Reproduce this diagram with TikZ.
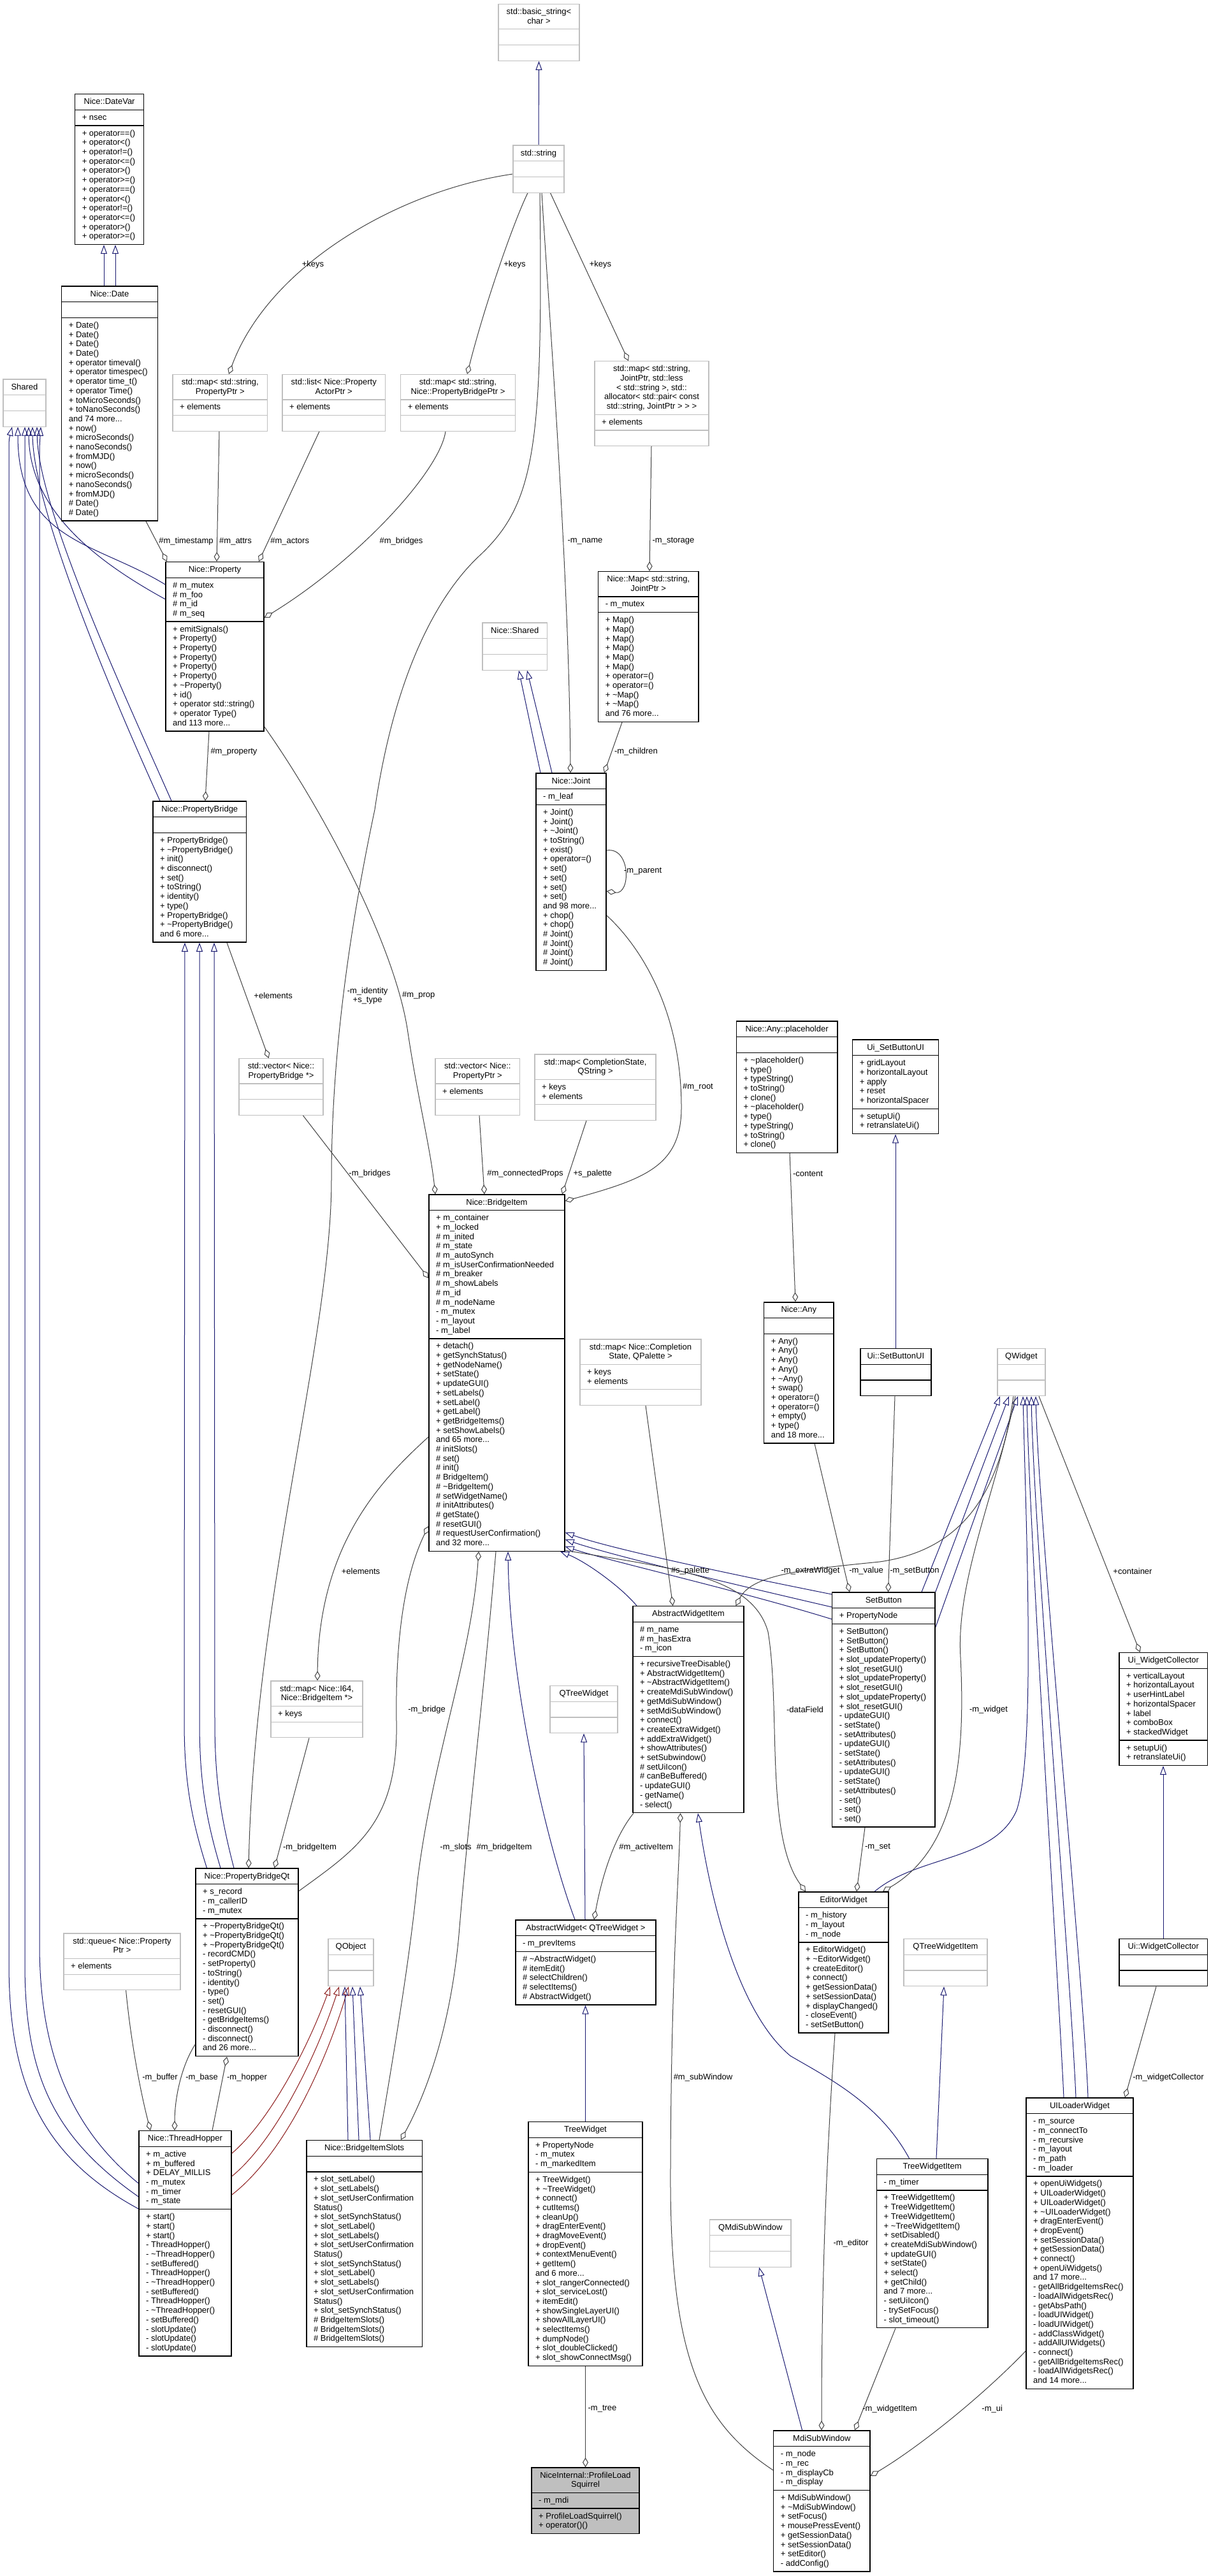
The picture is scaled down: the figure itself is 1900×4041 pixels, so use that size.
\documentclass[tikz,border=0pt]{standalone}
\usepackage{fontspec}
\setmainfont{Liberation Sans}
\usetikzlibrary{arrows.meta,fit}
\definecolor{navy}{RGB}{25,25,112}
\definecolor{privred}{RGB}{139,26,26}
\definecolor{edgegray}{RGB}{64,64,64}
\definecolor{boxgray}{RGB}{191,191,191}
\pgfdeclarelayer{bg}\pgfsetlayers{bg,main}
\newcommand{\more}[1]{and #1 more.{}.{}.}
% class box: [style]{name}{x}{y}{width}{title lines}{attr lines}{method lines}
\newcommand{\umlbox}[8][cls]{%
 \pgfmathsetmacro\boxA{#4+#6*14.7+10}\pgfmathsetmacro\boxB{\boxA+max(#7,1)*14.7+10}\pgfmathsetmacro\boxC{\boxB+max(#8,1)*14.7+10}%
 \node[#1,fit={(#3,#4) ({#3+#5},\boxC)}] (#2) {};
 \draw[#1] (#3,\boxA) -- ({#3+#5},\boxA) (#3,\boxB) -- ({#3+#5},\boxB);
 \xdef\boxN{#2}\xdef\boxX{#3}\xdef\boxY{#4}\xdef\boxW{#5}\xdef\boxA{\boxA}\xdef\boxB{\boxB}}
\newcommand{\btitle}[1]{\foreach \row [count=\i] in {#1} \node[txt,anchor=base] (\boxN-t\i) at ({\boxX+\boxW/2},{\boxY+16+(\i-1)*14.7}) {\row};}
\newcommand{\battr}[1]{\foreach \row [count=\i] in {#1} \node[txt,anchor=base west] (\boxN-a\i) at ({\boxX+11},{\boxA+16+(\i-1)*14.7}) {\row};}
\newcommand{\bmeth}[1]{\foreach \row [count=\i] in {#1} \node[txt,anchor=base west] (\boxN-m\i) at ({\boxX+11},{\boxB+16+(\i-1)*14.7}) {\row};}
\tikzset{every node/.style={font=\fontsize{13}{14.7}\selectfont},
 cls/.style={draw=black,fill=white,line width=1.4pt,inner sep=0pt},
 ext/.style={draw=boxgray,fill=white,line width=1.2pt,inner sep=0pt},
 cur/.style={draw=black,fill=boxgray,line width=1.4pt,inner sep=0pt},
 txt/.style={inner sep=0pt},lbl/.style={inner sep=0pt},
 inh/.style={navy,line width=1pt,-{Triangle[open,length=14pt,width=10pt]}},
 priv/.style={inh,privred},
 agg/.style={edgegray,line width=1pt,-{Diamond[open,length=15pt,width=9pt]}}}
\begin{document}
\begin{tikzpicture}[x=1pt,y=-1pt]
\useasboundingbox (0,0) rectangle (1900,4041);
% classes
\umlbox[ext]{bstr}{782}{6.5}{127}{2}{0}{0}\btitle{std::basic\_string<,char >}
\umlbox[ext]{str}{805}{228}{80}{1}{0}{0}\btitle{std::string}
\umlbox{datevar}{117.6}{147.7}{108}{1}{1}{12}\btitle{Nice::DateVar}\battr{+ nsec}
\bmeth{+ operator==(),+ operator<(),+ operator!=(),+ operator<=(),+ operator>(),+ operator>=(),+ operator==(),+ operator<(),+ operator!=(),+ operator<=(),+ operator>(),+ operator>=()}
\umlbox{date}{96.7}{449}{150.6}{1}{0}{21}\btitle{Nice::Date}
\bmeth{+ Date(),+ Date(),+ Date(),+ Date(),+ operator timeval(),+ operator timespec(),+ operator time\_t(),+ operator Time(),+ toMicroSeconds(),+ toNanoSeconds(),\more{74},+ now(),+ microSeconds(),+ nanoSeconds(),+ fromMJD(),+ now(),+ microSeconds(),+ nanoSeconds(),+ fromMJD(),\# Date(),\# Date()}
\umlbox[ext]{shared}{5}{595}{67}{1}{0}{0}\btitle{Shared}
\umlbox[ext]{mapattr}{271}{587.5}{148.6}{2}{1}{0}\btitle{{std::map< std::string,},PropertyPtr >}\battr{+ elements}
\umlbox[ext]{listact}{443}{587.5}{161.5}{2}{1}{0}\btitle{std::list< Nice::Property,ActorPtr >}\battr{+ elements}
\umlbox[ext]{mapbridge}{628.6}{587.5}{179.8}{2}{1}{0}\btitle{{std::map< std::string,},Nice::PropertyBridgePtr >}\battr{+ elements}
\umlbox[ext]{mapjoint}{933}{566.7}{179}{5}{1}{0}\btitle{{std::map< std::string,},{JointPtr, std::less},{< std::string >, std::},allocator< std::pair< const,{std::string, JointPtr > > >}}\battr{+ elements}
\umlbox{nicemap}{938.6}{896.5}{157.4}{2}{1}{11}\btitle{{Nice::Map< std::string,},JointPtr >}\battr{- m\_mutex}
\bmeth{+ Map(),+ Map(),+ Map(),+ Map(),+ Map(),+ Map(),+ operator=(),+ operator=(),+ \textasciitilde Map(),+ \textasciitilde Map(),\more{76}}
\umlbox{property}{260}{881.6}{154}{1}{4}{11}\btitle{Nice::Property}\battr{\# m\_mutex,\# m\_foo,\# m\_id,\# m\_seq}
\bmeth{+ emitSignals(),+ Property(),+ Property(),+ Property(),+ Property(),+ Property(),+ \textasciitilde Property(),+ id(),+ operator std::string(),+ operator Type(),\more{113}}
\umlbox[ext]{nshared}{757}{977}{101.6}{1}{0}{0}\btitle{Nice::Shared}
\umlbox{joint}{841}{1213}{110}{1}{1}{17}\btitle{Nice::Joint}\battr{- m\_leaf}
\bmeth{+ Joint(),+ Joint(),+ \textasciitilde Joint(),+ toString(),+ exist(),+ operator=(),+ set(),+ set(),+ set(),+ set(),\more{98},+ chop(),+ chop(),\# Joint(),\# Joint(),\# Joint(),\# Joint()}
\umlbox{pbridge}{240}{1257}{146.5}{1}{0}{11}\btitle{Nice::PropertyBridge}
\bmeth{+ PropertyBridge(),+ \textasciitilde PropertyBridge(),+ init(),+ disconnect(),+ set(),+ toString(),+ identity(),+ type(),+ PropertyBridge(),+ \textasciitilde PropertyBridge(),\more{6}}
\umlbox{placeholder}{1155.3}{1602}{158.6}{1}{0}{10}\btitle{Nice::Any::placeholder}
\bmeth{+ \textasciitilde placeholder(),+ type(),+ typeString(),+ toString(),+ clone(),+ \textasciitilde placeholder(),+ type(),+ typeString(),+ toString(),+ clone()}
\umlbox{uisetbtn}{1337.6}{1631}{135}{1}{5}{2}\btitle{Ui\_SetButtonUI}\battr{+ gridLayout,+ horizontalLayout,+ apply,+ reset,+ horizontalSpacer}\bmeth{+ setupUi(),+ retranslateUi()}
\umlbox[ext]{vecpb}{375}{1660.6}{132}{2}{0}{0}\btitle{std::vector< Nice::,PropertyBridge *>}
\umlbox[ext]{vecprop}{683}{1660.6}{132.7}{2}{1}{0}\btitle{std::vector< Nice::,PropertyPtr >}\battr{+ elements}
\umlbox[ext]{mapcs}{839}{1654}{190}{2}{2}{0}\btitle{{std::map< CompletionState,},QString >}\battr{+ keys,+ elements}
\umlbox{bitem}{673}{1874}{213}{1}{13}{22}\btitle{Nice::BridgeItem}
\battr{+ m\_container,+ m\_locked,\# m\_inited,\# m\_state,\# m\_autoSynch,\# m\_isUserConfirmationNeeded,\# m\_breaker,\# m\_showLabels,\# m\_id,\# m\_nodeName,- m\_mutex,- m\_layout,- m\_label}
\bmeth{+ detach(),+ getSynchStatus(),+ getNodeName(),+ setState(),+ updateGUI(),+ setLabels(),+ setLabel(),+ getLabel(),+ getBridgeItems(),+ setShowLabels(),\more{65},\# initSlots(),\# set(),\# init(),\# BridgeItem(),\# \textasciitilde BridgeItem(),\# setWidgetName(),\# initAttributes(),\# getState(),\# resetGUI(),\# requestUserConfirmation(),\more{32}}
\umlbox{any}{1198.6}{2042.8}{109.4}{1}{0}{11}\btitle{Nice::Any}
\bmeth{+ Any(),+ Any(),+ Any(),+ Any(),+ \textasciitilde Any(),+ swap(),+ operator=(),+ operator=(),+ empty(),+ type(),\more{18}}
\umlbox[ext]{mappal}{910}{2101}{190}{2}{2}{0}\btitle{std::map< Nice::Completion,{State, QPalette >}}\battr{+ keys,+ elements}
\umlbox{uisetbtn2}{1349.8}{2115.6}{111}{1}{0}{0}\btitle{Ui::SetButtonUI}
\umlbox[ext]{qwidget}{1565}{2115.6}{75}{1}{0}{0}\btitle{QWidget}
\umlbox{awitem}{992.8}{2519.7}{174.2}{1}{3}{16}\btitle{AbstractWidgetItem}\battr{\# m\_name,\# m\_hasExtra,- m\_icon}
\bmeth{+ recursiveTreeDisable(),+ AbstractWidgetItem(),+ \textasciitilde AbstractWidgetItem(),+ createMdiSubWindow(),+ getMdiSubWindow(),+ setMdiSubWindow(),+ connect(),+ createExtraWidget(),+ addExtraWidget(),+ showAttributes(),+ setSubwindow(),\# setUiIcon(),\# canBeBuffered(),- updateGUI(),- getName(),- select()}
\umlbox{setbtn}{1305.7}{2498}{161.3}{1}{1}{21}\btitle{SetButton}\battr{+ PropertyNode}
\bmeth{+ SetButton(),+ SetButton(),+ SetButton(),+ slot\_updateProperty(),+ slot\_resetGUI(),+ slot\_updateProperty(),+ slot\_resetGUI(),+ slot\_updateProperty(),+ slot\_resetGUI(),- updateGUI(),- setState(),- setAttributes(),- updateGUI(),- setState(),- setAttributes(),- updateGUI(),- setState(),- setAttributes(),- set(),- set(),- set()}
\umlbox[ext]{mapi64}{425}{2637}{144}{2}{1}{0}\btitle{{std::map< Nice::I64,},Nice::BridgeItem *>}\battr{+ keys}
\umlbox{uiwc}{1756}{2592.5}{138.7}{1}{7}{2}\btitle{Ui\_WidgetCollector}\battr{+ verticalLayout,+ horizontalLayout,+ userHintLabel,+ horizontalSpacer,+ label,+ comboBox,+ stackedWidget}\bmeth{+ setupUi(),+ retranslateUi()}
\umlbox[ext]{qtw}{863}{2644.6}{106}{1}{0}{0}\btitle{QTreeWidget}
\umlbox{pbqt}{307}{2931}{161}{1}{3}{14}\btitle{Nice::PropertyBridgeQt}\battr{+ s\_record,- m\_callerID,- m\_mutex}
\bmeth{+ \textasciitilde PropertyBridgeQt(),+ \textasciitilde PropertyBridgeQt(),+ \textasciitilde PropertyBridgeQt(),- recordCMD(),- setProperty(),- toString(),- identity(),- type(),- set(),- resetGUI(),- getBridgeItems(),- disconnect(),- disconnect(),\more{26}}
\umlbox{editor}{1253}{2968}{141}{1}{3}{9}\btitle{EditorWidget}\battr{- m\_history,- m\_layout,- m\_node}
\bmeth{+ EditorWidget(),+ \textasciitilde EditorWidget(),+ createEditor(),+ connect(),+ getSessionData(),+ setSessionData(),+ displayChanged(),- closeEvent(),- setSetButton()}
\umlbox[ext]{qtwi}{1418}{3041.6}{131}{1}{0}{0}\btitle{QTreeWidgetItem}
\umlbox{awidget}{808.8}{3012}{220}{1}{1}{5}\btitle{AbstractWidget< QTreeWidget >}\battr{- m\_prevItems}
\bmeth{\# \textasciitilde AbstractWidget(),\# itemEdit(),\# selectChildren(),\# selectItems(),\# AbstractWidget()}
\umlbox[ext]{queue}{100}{3033}{183}{2}{1}{0}\btitle{std::queue< Nice::Property,Ptr >}\battr{+ elements}
\umlbox[ext]{qobject}{515}{3041.6}{71}{1}{0}{0}\btitle{QObject}
\umlbox{uiwc2}{1756}{3041.6}{138.7}{1}{0}{0}\btitle{Ui::WidgetCollector}
\umlbox{hopper}{218}{3342.7}{145}{1}{6}{15}\btitle{Nice::ThreadHopper}\battr{+ m\_active,+ m\_buffered,+ DELAY\_MILLIS,- m\_mutex,- m\_timer,- m\_state}
\bmeth{+ start(),+ start(),+ start(),- ThreadHopper(),- \textasciitilde ThreadHopper(),- setBuffered(),- ThreadHopper(),- \textasciitilde ThreadHopper(),- setBuffered(),- ThreadHopper(),- \textasciitilde ThreadHopper(),- setBuffered(),- slotUpdate(),- slotUpdate(),- slotUpdate()}
\umlbox{bislots}{480.8}{3357.5}{181.8}{1}{0}{18}\btitle{Nice::BridgeItemSlots}
\bmeth{+ slot\_setLabel(),+ slot\_setLabels(),+ slot\_setUserConfirmation,Status(),+ slot\_setSynchStatus(),+ slot\_setLabel(),+ slot\_setLabels(),+ slot\_setUserConfirmation,Status(),+ slot\_setSynchStatus(),+ slot\_setLabel(),+ slot\_setLabels(),+ slot\_setUserConfirmation,Status(),+ slot\_setSynchStatus(),\# BridgeItemSlots(),\# BridgeItemSlots(),\# BridgeItemSlots()}
\umlbox{twidget}{829}{3328.5}{179}{1}{3}{20}\btitle{TreeWidget}\battr{+ PropertyNode,- m\_mutex,- m\_markedItem}
\bmeth{+ TreeWidget(),+ \textasciitilde TreeWidget(),+ connect(),+ cutItems(),+ cleanUp(),+ dragEnterEvent(),+ dragMoveEvent(),+ dropEvent(),+ contextMenuEvent(),+ getItem(),\more{6},+ slot\_rangerConnected(),+ slot\_serviceLost(),+ itemEdit(),+ showSingleLayerUI(),+ showAllLayerUI(),+ selectItems(),+ dumpNode(),+ slot\_doubleClicked(),+ slot\_showConnectMsg()}
\umlbox{twitem}{1375.5}{3386.5}{174.3}{1}{1}{14}\btitle{TreeWidgetItem}\battr{- m\_timer}
\bmeth{+ TreeWidgetItem(),+ TreeWidgetItem(),+ TreeWidgetItem(),+ \textasciitilde TreeWidgetItem(),+ setDisabled(),+ createMdiSubWindow(),+ updateGUI(),+ setState(),+ select(),+ getChild(),\more{7},- setUiIcon(),- trySetFocus(),- slot\_timeout()}
\umlbox{uiloader}{1610}{3291}{168}{1}{6}{22}\btitle{UILoaderWidget}\battr{- m\_source,- m\_connectTo,- m\_recursive,- m\_layout,- m\_path,- m\_loader}
\bmeth{+ openUiWidgets(),+ UILoaderWidget(),+ UILoaderWidget(),+ \textasciitilde UILoaderWidget(),+ dragEnterEvent(),+ dropEvent(),+ setSessionData(),+ getSessionData(),+ connect(),+ openUiWidgets(),\more{17},- getAllBridgeItemsRec(),- loadAllWidgetsRec(),- getAbsPath(),- loadUIWidget(),- loadUIWidget(),- addClassWidget(),- addAllUIWidgets(),- connect(),- getAllBridgeItemsRec(),- loadAllWidgetsRec(),\more{14}}
\umlbox[ext]{qmdi}{1113.7}{3482}{127.3}{1}{0}{0}\btitle{QMdiSubWindow}
\umlbox{mdi}{1213.7}{3813}{151.3}{1}{4}{8}\btitle{MdiSubWindow}\battr{- m\_node,- m\_rec,- m\_displayCb,- m\_display}
\bmeth{+ MdiSubWindow(),+ \textasciitilde MdiSubWindow(),+ setFocus(),+ mousePressEvent(),+ getSessionData(),+ setSessionData(),+ setEditor(),- addConfig()}
\umlbox[cur]{squirrel}{834}{3871}{169}{2}{1}{2}\btitle{NiceInternal::ProfileLoad,Squirrel}\battr{- m\_mdi}\bmeth{+ ProfileLoadSquirrel(),+ operator()()}
\begin{pgfonlayer}{bg}
% inheritance
\draw[inh] (str.north) -- (bstr.south);
\draw[inh] (date.north -| 163,0) -- (datevar.south -| 163,0);\draw[inh] (date.north -| 181,0) -- (datevar.south -| 181,0);
\draw[inh] (property.west |- 0,917) .. controls (150,850) and (28,850) .. (shared.south -| 28,0);
\draw[inh] (property.west |- 0,940) .. controls (150,880) and (46,800) .. (shared.south -| 45,0);
\draw[inh] (pbridge.north -| 251,0) .. controls (180,1100) and (52,800) .. (shared.south -| 51,0);
\draw[inh] (pbridge.north -| 269,0) .. controls (200,1100) and (60,800) .. (shared.south -| 58,0);
\draw[inh] (hopper.west |- 0,3425) .. controls (100,3330) and (62,3200) .. (62,3050) -- (62,730) .. controls (62,700) .. (shared.south -| 64,0);
\draw[inh] (hopper.west |- 0,3446) .. controls (80,3350) and (39,3250) .. (39,3080) -- (shared.south -| 39,0);
\draw[inh] (hopper.west |- 0,3465) .. controls (60,3380) and (14,3260) .. (14,3080) -- (14,720) .. controls (14,690) .. (shared.south -| 19,0);
\draw[inh] (joint.north -| 848,0) -- (nshared.south -| 814,0);\draw[inh] (joint.north -| 866,0) -- (nshared.south -| 827,0);
\draw[inh] (pbqt.north -| 324.5,0) .. controls (299,2850) and (289,2790) .. (289,2700) -- (pbridge.south -| 290,0);
\draw[inh] (pbqt.north -| 346,0) .. controls (322,2850) and (313,2790) .. (313,2700) -- (pbridge.south -| 313,0);
\draw[inh] (pbqt.north -| 367,0) .. controls (346,2850) and (337,2790) .. (337,2700) -- (pbridge.south -| 336,0);
\draw[priv] (hopper.east |- 0,3378) .. controls (420,3330) and (480,3220) .. (qobject.south -| 518,0);
\draw[priv] (hopper.east |- 0,3414) .. controls (430,3360) and (495,3230) .. (qobject.south -| 532,0);
\draw[priv] (hopper.east |- 0,3443) .. controls (445,3380) and (510,3240) .. (qobject.south -| 547,0);
\draw[inh] (bislots.north -| 546,0) -- (qobject.south -| 541,0);\draw[inh] (bislots.north -| 563,0) -- (qobject.south -| 553,0);\draw[inh] (bislots.north -| 581,0) -- (qobject.south -| 565,0);
\draw[inh] (awitem.north -| 999,0) .. controls (975,2490) and (920,2450) .. (bitem.south -| 879,0);
\draw[inh] (setbtn.west |- 0,2501) .. controls (1150,2470) and (960,2430) .. (bitem.east |- 0,2404);
\draw[inh] (setbtn.west |- 0,2521) .. controls (1150,2485) and (960,2440) .. (bitem.east |- 0,2415);
\draw[inh] (setbtn.west |- 0,2540) .. controls (1160,2495) and (960,2450) .. (bitem.east |- 0,2426);
\draw[inh] (awidget.north -| 902,0) .. controls (860,2900) and (800,2650) .. (bitem.south -| 797,0);
\draw[inh] (awidget.north -| 918,0) -- (qtw.south -| 916,0);
\draw[inh] (twidget.north) -- (twidget.north |- awidget.south);
\draw[inh] (twitem.north -| 1426.5,0) .. controls (1380,3300) and (1300,3260) .. (1240,3225) .. controls (1150,3150) and (1110,2950) .. (awitem.south -| 1095,0);
\draw[inh] (twitem.north -| 1469,0) -- (qtwi.south -| 1481,0);
\draw[inh] (mdi.north -| 1258.6,0) -- (qmdi.south -| 1191,0);
\draw[inh] (uisetbtn2.north -| 1405,0) -- (uisetbtn.south -| 1405,0);
\draw[inh] (uiwc2.north -| 1825,0) -- (uiwc.south -| 1825,0);
\draw[inh] (setbtn.north -| 1446,0) -- (qwidget.south -| 1569,0);
\draw[inh] (setbtn.north east) -- (qwidget.south -| 1583,0);
\draw[inh] (setbtn.east |- 0,2553) -- (qwidget.south -| 1597,0);
\draw[inh] (editor.north -| 1372,0) .. controls (1440,2910) and (1560,2920) .. (1595,2840) .. controls (1625,2750) and (1610,2400) .. (qwidget.south -| 1605,0);
\draw[inh] (uiloader.north -| 1669,0) .. controls (1660,3100) and (1615,2400) .. (qwidget.south -| 1611,0);
\draw[inh] (uiloader.north -| 1688,0) .. controls (1680,3100) and (1622,2400) .. (qwidget.south -| 1618,0);
\draw[inh] (uiloader.north -| 1707,0) .. controls (1700,3100) and (1630,2400) .. (qwidget.south -| 1625,0);
% members
\draw[agg] (str.west |- 0,273) .. controls (620,300) and (420,420) .. (mapattr.north -| 359,0);
\draw[agg] (str.south -| 828,0) .. controls (805,350) and (760,480) .. (mapbridge.north -| 733,0);
\draw[agg] (str.south -| 863.5,0) -- (mapjoint.north -| 986,0);
\draw[agg] (str.south -| 850,0) .. controls (862,500) and (893,900) .. (joint.north -| 895,0);
\draw[agg] (str.south -| 847,0) .. controls (852,700) and (840,790) .. (752,872) .. controls (690,930) and (620,1050) .. (588,1270) .. controls (550,1450) and (520,1650) .. (520,1850) .. controls (520,2100) and (400,2500) .. (pbqt.north -| 390,0);
\draw[agg] (date.south -| 229,0) -- (property.north -| 262,0);
\draw[agg] (mapattr.south -| 344,0) -- (property.north -| 340,0);
\draw[agg] (listact.south -| 501,0) -- (property.north -| 406,0);
\draw[agg] (mapbridge.south -| 699,0) .. controls (690,740) and (560,880) .. (property.east |- 0,969);
\draw[agg] (mapjoint.south -| 1022,0) -- (nicemap.north -| 1019,0);
\draw[agg] (nicemap.south -| 976,0) -- (joint.north -| 948,0);
\draw[agg] (joint.east |- 0,1334) .. controls (990,1328) and (990,1404) .. (joint.east |- 0,1398);
\draw[agg] (joint.east |- 0,1436) .. controls (1000,1480) and (1070,1580) .. (1069,1740) .. controls (1068,1830) and (1010,1850) .. (bitem.east |- 0,1884);
\draw[agg] (property.east |- 0,1140) .. controls (500,1260) and (620,1480) .. (640,1620) .. controls (655,1720) and (675,1800) .. (bitem.north -| 683,0);
\draw[agg] (property.south -| 328,0) -- (pbridge.north -| 322,0);
\draw[agg] (pbridge.south -| 356,0) -- (vecpb.north -| 421.6,0);
\draw[agg] (vecpb.south -| 475.5,0) -- (bitem.west |- 0,2005);
\draw[agg] (vecprop.south -| 752,0) -- (bitem.north -| 760,0);
\draw[agg] (mapcs.south -| 920,0) -- (bitem.north -| 882,0);
\draw[agg] (placeholder.south -| 1239,0) -- (any.north -| 1248,0);
\draw[agg] (any.south -| 1278,0) -- (setbtn.north -| 1333,0);
\draw[agg] (uisetbtn2.south -| 1404,0) -- (setbtn.north -| 1393.5,0);
\draw[agg] (mappal.south -| 1013,0) -- (awitem.north -| 1055.7,0);
\draw[agg] (qwidget.south -| 1590,0) .. controls (1570,2330) and (1520,2430) .. (1380,2450) .. controls (1260,2462) and (1180,2470) .. (awitem.north -| 1154.5,0);
\draw[agg] (qwidget.south -| 1593,0) .. controls (1560,2350) and (1500,2480) .. (1507,2600) .. controls (1515,2760) and (1500,2900) .. (editor.north -| 1385,0);
\draw[agg] (qwidget.south -| 1630,0) -- (uiwc.north -| 1788.6,0);
\draw[agg] (setbtn.south -| 1357,0) -- (editor.north -| 1344,0);
\draw[agg] (bitem.east |- 0,2432) .. controls (1050,2460) and (1180,2470) .. (1205,2560) .. controls (1225,2680) and (1200,2880) .. (editor.north -| 1264,0);
\draw[agg] (bitem.west |- 0,2254) .. controls (600,2320) and (500,2420) .. (mapi64.north -| 498,0);
\draw[agg] (mapi64.south -| 485,0) -- (pbqt.north -| 430.6,0);
\draw[agg] (pbqt.east |- 0,2966.6) .. controls (560,2900) and (625,2860) .. (622,2700) .. controls (620,2550) and (640,2460) .. (bitem.west |- 0,2394);
\draw[agg] (bislots.north -| 595,0) .. controls (630,3150) and (645,3050) .. (655,2950) .. controls (680,2750) and (740,2600) .. (bitem.south -| 751,0);
\draw[agg] (bitem.south -| 778,0) .. controls (760,2650) and (735,2850) .. (720,3035) .. controls (705,3200) and (660,3300) .. (bislots.north -| 629,0);
\draw[agg] (awitem.south -| 994,0) .. controls (965,2880) and (945,2940) .. (awidget.north -| 932,0);
\draw[agg] (mdi.west |- 0,3875) .. controls (1100,3800) and (1050,3700) .. (1052,3400) .. controls (1053,3100) and (1065,2950) .. (awitem.south -| 1067.5,0);
\draw[agg] (queue.south -| 197.6,0) .. controls (205,3200) and (220,3280) .. (hopper.north -| 236,0);
\draw[agg] (pbqt.west |- 0,3207) .. controls (285,3240) and (274,3290) .. (hopper.north -| 274,0);
\draw[agg] (hopper.north -| 333,0) -- (pbqt.south -| 356,0);
\draw[agg] (twidget.south) -- (squirrel.north);
\draw[agg] (editor.south -| 1310,0) .. controls (1292,3450) and (1289,3650) .. (mdi.north -| 1289,0);
\draw[agg] (twitem.south -| 1405,0) -- (mdi.north -| 1341,0);
\draw[agg] (uiloader.west |- 0,3688) .. controls (1540,3760) and (1440,3840) .. (mdi.east |- 0,3884);
\draw[agg] (uiwc2.south -| 1814,0) -- (uiloader.north -| 1765,0);
\end{pgfonlayer}
% edge labels
\node[lbl] (l1) at (491,415) {+keys};\node[lbl] (l2) at (807.5,415) {+keys};\node[lbl] (l3) at (942,415) {+keys};
\node[lbl] (l4) at (292,849) {\#m\_timestamp};\node[lbl] (l5) at (369.5,849) {\#m\_attrs};\node[lbl] (l6) at (454.7,849) {\#m\_actors};
\node[lbl] (l7) at (629.5,849) {\#m\_bridges};\node[lbl] (l8) at (918,849) {-m\_name};\node[lbl] (l9) at (1056.5,849) {-m\_storage};
\node[lbl] (l10) at (998,1179) {-m\_children};\node[lbl] (l11) at (367,1179) {\#m\_property};\node[lbl] (l12) at (1008.6,1366.5) {-m\_parent};
\node[lbl] (l13) at (656.7,1561.7) {\#m\_prop};\node[lbl,align=center] (l14) at (576.6,1562) {-m\_identity\\+s\_type};\node[lbl] (l15) at (428.6,1561.7) {+elements};
\node[lbl] (l16) at (1095,1705) {\#m\_root};\node[lbl] (l17) at (1267.5,1841) {-content};\node[lbl] (l18) at (580,1841) {-m\_bridges};
\node[lbl] (l19) at (824,1841) {\#m\_connectedProps};\node[lbl] (l20) at (929.7,1841) {+s\_palette};
\node[lbl] (l21) at (566,2464.4) {+elements};\node[lbl] (l22) at (1083,2464.4) {\#s\_palette};\node[lbl] (l23) at (1271.5,2464.4) {-m\_extraWidget};
\node[lbl] (l24) at (1359,2464.4) {-m\_value};\node[lbl] (l25) at (1435,2464.4) {-m\_setButton};\node[lbl] (l26) at (1777,2464.4) {+container};
\node[lbl] (l27) at (669.6,2681.7) {-m\_bridge};\node[lbl] (l28) at (1263,2681.7) {-dataField};\node[lbl] (l29) at (1551,2681.7) {-m\_widget};
\node[lbl] (l30) at (486,2898) {-m\_bridgeItem};\node[lbl] (l31) at (715,2898) {-m\_slots};\node[lbl] (l32) at (791,2898) {\#m\_bridgeItem};
\node[lbl] (l33) at (1013.7,2898) {\#m\_activeItem};\node[lbl] (l34) at (1377,2898) {-m\_set};
\node[lbl] (l35) at (251,3259) {-m\_buffer};\node[lbl] (l36) at (316.6,3259) {-m\_base};\node[lbl] (l37) at (387.6,3259) {-m\_hopper};
\node[lbl] (l38) at (1103,3259) {\#m\_subWindow};\node[lbl] (l39) at (1833,3259) {-m\_widgetCollector};\node[lbl] (l40) at (1335,3518.7) {-m\_editor};
\node[lbl] (l41) at (945,3779) {-m\_tree};\node[lbl] (l42) at (1396,3779) {-m\_widgetItem};\node[lbl] (l43) at (1556.7,3779) {-m\_ui};
\end{tikzpicture}
\end{document}
